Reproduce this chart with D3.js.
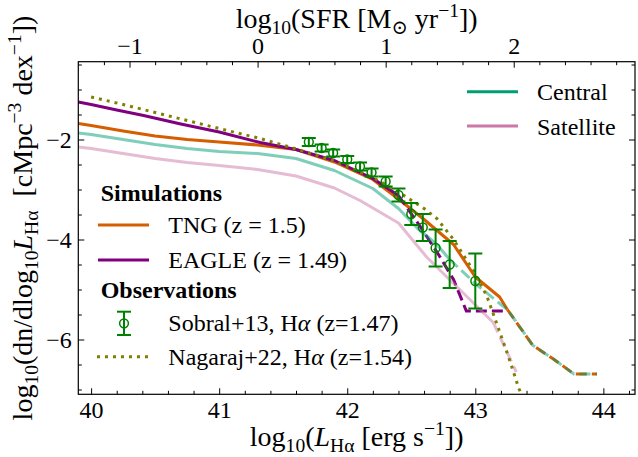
<!DOCTYPE html>
<html>
<head>
<meta charset="utf-8">
<script src="https://cdn.jsdelivr.net/npm/d3@7"></script>
<style>
body{margin:0;background:#fff}
svg text{font-family:"Liberation Serif","Times New Roman","DejaVu Serif",serif;fill:#000;white-space:pre}
</style>
</head>
<body>
<div id="chart"></div>
<script>
// ---- data ----
var tngLogL = [39.9, 40.0, 40.25, 40.5, 40.75, 41.0, 41.3, 41.6, 41.9, 42.2, 42.41, 42.6, 42.83, 43.0, 43.19, 43.25, 43.45, 43.61, 43.77, 43.95]
var tngPhi  = [-1.68, -1.72, -1.83, -1.93, -2.0, -2.05, -2.11, -2.2, -2.45, -2.8, -3.21, -3.6, -4.1, -4.75, -5.15, -5.4, -6.12, -6.39, -6.69, -6.69]
var tngSparseFrom = 43.25

var eagleLogL = [39.9, 40.0, 40.2, 40.41, 40.7, 41.0, 41.32, 41.6, 41.9, 42.2, 42.4, 42.57, 42.72, 42.83, 42.93, 43.23]
var eaglePhi  = [-1.25, -1.3, -1.41, -1.52, -1.69, -1.85, -2.06, -2.2, -2.42, -2.78, -3.12, -3.74, -4.33, -4.8, -5.43, -5.43]
var eagleSparseFrom = 42.4

var centralLogL = [39.9, 40.0, 40.25, 40.5, 40.75, 41.0, 41.3, 41.6, 41.9, 42.2, 42.4, 42.55, 42.7, 42.8, 43.0, 43.2, 43.25, 43.45, 43.61, 43.77, 43.95]
var centralPhi  = [-1.87, -1.9, -2.0, -2.1, -2.18, -2.24, -2.28, -2.38, -2.62, -2.98, -3.38, -3.78, -4.1, -4.4, -4.88, -5.3, -5.4, -6.12, -6.39, -6.69, -6.69]
var centralSparseFrom = 42.8

var satLogL = [39.9, 40.0, 40.25, 40.5, 40.75, 41.0, 41.3, 41.6, 41.9, 42.1, 42.4, 42.62, 42.85, 43.14, 43.32]
var satPhi  = [-2.15, -2.18, -2.28, -2.38, -2.46, -2.52, -2.6, -2.73, -2.97, -3.22, -3.67, -4.35, -4.93, -5.66, -6.65]
var satSparseFrom = 43.14

var sobralLogL = [41.70, 41.80, 41.89, 42.00, 42.10, 42.19, 42.30, 42.40, 42.50, 42.59, 42.69, 42.80, 43.00]
var sobralPhi  = [-2.05, -2.17, -2.27, -2.40, -2.54, -2.66, -2.84, -3.11, -3.49, -3.76, -4.17, -4.50, -4.83]
var sobralErr  = [0.08, 0.07, 0.07, 0.07, 0.08, 0.08, 0.10, 0.13, 0.22, 0.27, 0.37, 0.47, 0.55]

var nagarajLogL = [40.0, 40.25, 40.5, 40.75, 41.0, 41.32, 41.63, 41.9, 42.2, 42.4, 42.6, 42.7, 42.83, 42.98, 43.09, 43.17, 43.26, 43.34, 43.36]
var nagarajPhi  = [-1.15, -1.3, -1.46, -1.62, -1.78, -1.98, -2.21, -2.43, -2.76, -3.05, -3.38, -3.58, -4.0, -4.6, -5.13, -5.7, -6.35, -6.98, -7.1]

var xTicks = [40, 41, 42, 43, 44]
var yTicks = [-6, -4, -2]
var sfrTicks = [-1, 0, 1, 2]
var sfrOffset = 41.3   // log SFR = log L - offset

// ---- layout ----
var W = 638, H = 457
var margin = {top:61.7, right:3, bottom:62.7, left:78.3}
var width = W - margin.left - margin.right
var height = H - margin.top - margin.bottom
var serif = '"Liberation Serif","Times New Roman","DejaVu Serif",serif'

var svg = d3.select('#chart').append('svg')
  .attr('width', W).attr('height', H)
  .attr('font-family', serif)

var g = svg.append('g')
  .attr('transform', 'translate(' + margin.left + ',' + margin.top + ')')

var x = d3.scaleLinear().domain([39.9, 44.247]).range([0, width])
var y = d3.scaleLinear().domain([-7.096, -0.444]).range([height, 0])
var xs = d3.scaleLinear().domain([39.9 - sfrOffset, 44.247 - sfrOffset]).range([0, width])

svg.append('defs').append('clipPath').attr('id', 'clip')
  .append('rect').attr('width', width).attr('height', height)

var tickFont = 24

function minorVals(lo, hi, step, majors) {
  var out = []
  for (var k = Math.ceil(lo / step); k * step <= hi; k++) {
    var v = +(k * step).toFixed(4)
    if (majors.indexOf(v) < 0) out.push(v)
  }
  return out
}

function styleAxis(sel) {
  sel.select('.domain').remove()
  sel.selectAll('line').attr('stroke', '#000').attr('stroke-width', 1)
  sel.attr('font-family', serif).attr('font-size', tickFont)
  sel.selectAll('text').attr('font-size', tickFont).attr('font-family', serif)
}

// bottom
g.append('g').attr('transform', 'translate(0,' + height + ')')
  .call(d3.axisBottom(x).tickValues(xTicks).tickSizeInner(-6).tickSizeOuter(0).tickPadding(7).tickFormat(d3.format('d')))
  .call(styleAxis)
g.append('g').attr('transform', 'translate(0,' + height + ')')
  .call(d3.axisBottom(x).tickValues(minorVals(39.9, 44.247, 0.2, xTicks)).tickSizeInner(-3.5).tickSizeOuter(0).tickFormat(''))
  .call(styleAxis)
// top (SFR)
g.append('g')
  .call(d3.axisTop(xs).tickValues(sfrTicks).tickSizeInner(-6).tickSizeOuter(0).tickPadding(8).tickFormat(d3.format('d')))
  .call(styleAxis)
g.append('g')
  .call(d3.axisTop(xs).tickValues(minorVals(39.9 - sfrOffset, 44.247 - sfrOffset, 0.2, sfrTicks)).tickSizeInner(-3.5).tickSizeOuter(0).tickFormat(''))
  .call(styleAxis)
// left
var yMinor = minorVals(-7.096, -0.444, 0.5, yTicks)
g.append('g')
  .call(d3.axisLeft(y).tickValues(yTicks).tickSizeInner(-6).tickSizeOuter(0).tickPadding(6.5).tickFormat(d3.format('d')))
  .call(styleAxis)
g.append('g')
  .call(d3.axisLeft(y).tickValues(yMinor).tickSizeInner(-3.5).tickSizeOuter(0).tickFormat(''))
  .call(styleAxis)
// right
g.append('g').attr('transform', 'translate(' + width + ',0)')
  .call(d3.axisRight(y).tickValues(yTicks).tickSizeInner(-6).tickSizeOuter(0).tickFormat(''))
  .call(styleAxis)
g.append('g').attr('transform', 'translate(' + width + ',0)')
  .call(d3.axisRight(y).tickValues(yMinor).tickSizeInner(-3.5).tickSizeOuter(0).tickFormat(''))
  .call(styleAxis)

// ---- lines ----
var line = d3.line().x(function(d){ return x(d[0]) }).y(function(d){ return y(d[1]) })

function splitSeries(L, phi, from) {
  var pts = L.map(function(v, i){ return [v, phi[i]] })
  var solid = pts.filter(function(p){ return p[0] <= from + 1e-9 })
  var sparse = pts.filter(function(p){ return p[0] >= from - 1e-9 })
  return [solid, sparse]
}

var plot = g.append('g').attr('clip-path', 'url(#clip)')

function drawSeries(L, phi, from, color, opacity) {
  var parts = splitSeries(L, phi, from)
  plot.append('path').attr('d', line(parts[0]))
    .attr('fill', 'none').attr('stroke', color).attr('stroke-width', 3)
    .attr('stroke-opacity', opacity).attr('stroke-linejoin', 'round')
  plot.append('path').attr('d', line(parts[1]))
    .attr('fill', 'none').attr('stroke', color).attr('stroke-width', 3)
    .attr('stroke-opacity', opacity).attr('stroke-dasharray', '11,5')
}

drawSeries(tngLogL, tngPhi, tngSparseFrom, '#D55E00', 1)
drawSeries(eagleLogL, eaglePhi, eagleSparseFrom, '#800080', 1)
drawSeries(centralLogL, centralPhi, centralSparseFrom, '#009E73', 0.5)
drawSeries(satLogL, satPhi, satSparseFrom, '#CC79A7', 0.5)

plot.append('path')
  .attr('d', line(nagarajLogL.map(function(v, i){ return [v, nagarajPhi[i]] })))
  .attr('fill', 'none').attr('stroke', '#808000').attr('stroke-width', 3)
  .attr('stroke-dasharray', '3,5')

// Sobral points
var sob = plot.selectAll('.sob').data(sobralLogL.map(function(v, i){ return {L:v, p:sobralPhi[i], e:sobralErr[i]} }))
  .enter().append('g').attr('class', 'sob')
sob.append('line')
  .attr('x1', function(d){ return x(d.L) }).attr('x2', function(d){ return x(d.L) })
  .attr('y1', function(d){ return y(d.p + d.e) }).attr('y2', function(d){ return y(d.p - d.e) })
  .attr('stroke', '#008000').attr('stroke-width', 2)
sob.append('line')
  .attr('x1', function(d){ return x(d.L) - 7 }).attr('x2', function(d){ return x(d.L) + 7 })
  .attr('y1', function(d){ return y(d.p + d.e) }).attr('y2', function(d){ return y(d.p + d.e) })
  .attr('stroke', '#008000').attr('stroke-width', 2)
sob.append('line')
  .attr('x1', function(d){ return x(d.L) - 7 }).attr('x2', function(d){ return x(d.L) + 7 })
  .attr('y1', function(d){ return y(d.p - d.e) }).attr('y2', function(d){ return y(d.p - d.e) })
  .attr('stroke', '#008000').attr('stroke-width', 2)
sob.append('circle')
  .attr('cx', function(d){ return x(d.L) }).attr('cy', function(d){ return y(d.p) })
  .attr('r', 4.4).attr('fill', 'none').attr('stroke', '#008000').attr('stroke-width', 1.5)

// frame
g.append('rect').attr('width', width).attr('height', height)
  .attr('fill', 'none').attr('stroke', '#000').attr('stroke-width', 1.2)

// ---- labels ----
function rich(sel, parts, size) {
  var shift = 0
  parts.forEach(function(p){
    var s = p.sub ? 0.22 * size : (p.sup ? -0.38 * size : 0)
    var ts = sel.append('tspan').text(p.t).attr('dy', s - shift)
    if (p.sub || p.sup) ts.attr('font-size', size * 0.7)
    if (p.it) ts.attr('font-style', 'italic')
    shift = s
  })
}

var labelFont = 28
var xl = svg.append('text').attr('x', margin.left + width / 2).attr('y', 446)
  .attr('text-anchor', 'middle').attr('font-size', labelFont)
rich(xl, [{t:'log'}, {t:'10', sub:true}, {t:'('}, {t:'L', it:true}, {t:'Hα', sub:true}, {t:' [erg s'}, {t:'−1', sup:true}, {t:'])'}], labelFont)

var tl = svg.append('text').attr('x', margin.left + width / 2).attr('y', 28)
  .attr('text-anchor', 'middle').attr('font-size', labelFont)
rich(tl, [{t:'log'}, {t:'10', sub:true}, {t:'(SFR [M'}, {t:'⊙', sub:true}, {t:' yr'}, {t:'−1', sup:true}, {t:'])'}], labelFont)

var yl = svg.append('text')
  .attr('transform', 'translate(32,' + (margin.top + height / 2 - 10) + ') rotate(-90)')
  .attr('text-anchor', 'middle').attr('font-size', labelFont)
rich(yl, [{t:'log'}, {t:'10', sub:true}, {t:'(dn/dlog'}, {t:'10', sub:true}, {t:'L', it:true}, {t:'Hα', sub:true}, {t:'  [cMpc'}, {t:'−3', sup:true}, {t:' dex'}, {t:'−1', sup:true}, {t:'])'}], labelFont)

// ---- legends ----
var legFont = 24
var leg = svg.append('g')

function legLine(x1, x2, yy, color, dash) {
  var l = leg.append('line').attr('x1', x1).attr('x2', x2).attr('y1', yy).attr('y2', yy)
    .attr('stroke', color).attr('stroke-width', 3)
  if (dash) l.attr('stroke-dasharray', dash)
}
function legText(xx, yy, parts, bold) {
  var t = leg.append('text').attr('x', xx).attr('y', yy).attr('font-size', legFont)
  if (bold) t.attr('font-weight', 'bold')
  rich(t, parts, legFont)
}

legLine(467, 518, 91.7, '#009E73')
legText(537, 100, [{t:'Central'}])
legLine(467, 518, 126, '#CC79A7')
legText(537, 134.5, [{t:'Satellite'}])

legText(100.7, 201, [{t:'Simulations'}], true)
legLine(98, 149, 225, '#D55E00')
legText(168.3, 233, [{t:'TNG (z = 1.5)'}])
legLine(98, 149, 260, '#800080')
legText(168.3, 268, [{t:'EAGLE (z = 1.49)'}])
legText(100.7, 298, [{t:'Observations'}], true)
// Sobral marker
leg.append('line').attr('x1', 124).attr('x2', 124).attr('y1', 311.7).attr('y2', 335).attr('stroke', '#008000').attr('stroke-width', 2)
leg.append('line').attr('x1', 117).attr('x2', 131).attr('y1', 311.7).attr('y2', 311.7).attr('stroke', '#008000').attr('stroke-width', 2)
leg.append('line').attr('x1', 117).attr('x2', 131).attr('y1', 335).attr('y2', 335).attr('stroke', '#008000').attr('stroke-width', 2)
leg.append('circle').attr('cx', 124).attr('cy', 323.3).attr('r', 4.4).attr('fill', 'none').attr('stroke', '#008000').attr('stroke-width', 1.5)
legText(168.3, 331, [{t:'Sobral+13, H'}, {t:'α', it:true}, {t:' (z=1.47)'}])
legLine(97, 149, 356.7, '#808000', '3,5')
legText(168.3, 365, [{t:'Nagaraj+22, H'}, {t:'α', it:true}, {t:' (z=1.54)'}])
</script>
</body>
</html>
